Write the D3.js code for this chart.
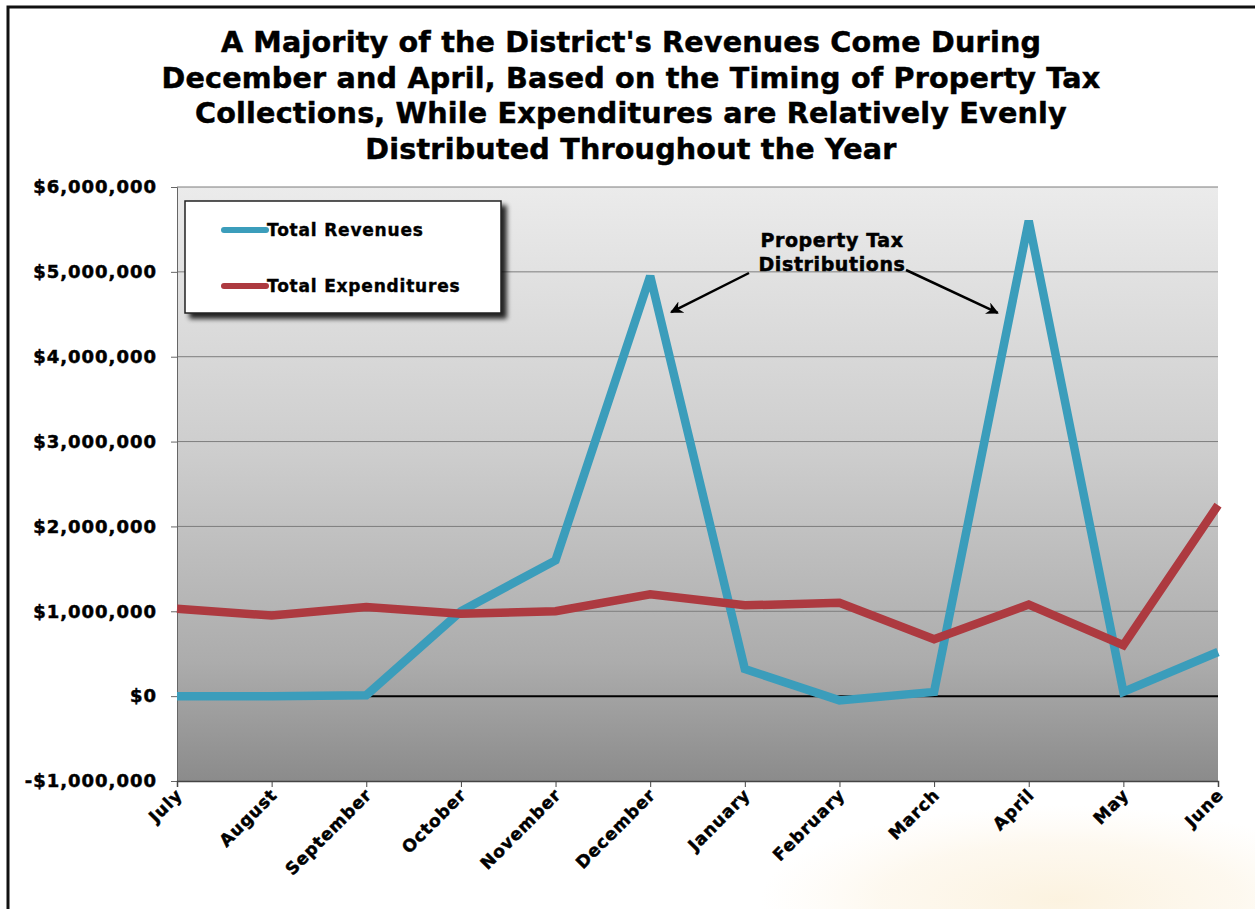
<!DOCTYPE html>
<html>
<head>
<meta charset="utf-8">
<script src="https://cdn.jsdelivr.net/npm/d3@7"></script>
<style>
  html, body { margin: 0; padding: 0; background: #fff; }
  svg { display: block; }
  text { font-family: "DejaVu Sans", Verdana, sans-serif; font-weight: bold; fill: #000; }
</style>
</head>
<body>
<svg id="chart" width="1255" height="909"></svg>
<script>
// Monthly figures for the fiscal year, July through June
const months = ["July", "August", "September", "October", "November", "December",
                "January", "February", "March", "April", "May", "June"];
const revenues = [0, 0, 10000, 1000000, 1600000, 4950000, 320000, -50000, 50000, 5600000, 50000, 520000];
const expenditures = [1030000, 950000, 1050000, 970000, 1000000, 1200000, 1070000, 1100000, 670000, 1080000, 600000, 2250000];
const yTicks = [-1000000, 0, 1000000, 2000000, 3000000, 4000000, 5000000, 6000000];
const titleLines = [
  "A Majority of the District's Revenues Come During",
  "December and April, Based on the Timing of Property Tax",
  "Collections, While Expenditures are Relatively Evenly",
  "Distributed Throughout the Year"
];
const seriesNames = ["Total Revenues", "Total Expenditures"];
const seriesColors = ["#3b9dbb", "#ad3a40"];
const noteLines = ["Property Tax", "Distributions"];

const FONT = "\"DejaVu Sans\", Verdana, sans-serif";
const svg = d3.select("#chart");
const W = 1255, H = 909;
const plot = { left: 177, right: 1218, top: 187, bottom: 781 };

const x = d3.scalePoint().domain(months).range([plot.left, plot.right]);
const y = d3.scaleLinear().domain([-1000000, 6000000]).range([plot.bottom, plot.top]);

const defs = svg.append("defs");
const bg = defs.append("linearGradient").attr("id", "plotBg")
  .attr("x1", 0).attr("y1", 0).attr("x2", 0).attr("y2", 1);
[[0, "#ebebeb"], [0.45, "#cdcdcd"], [0.8, "#acacac"], [1, "#8b8b8b"]]
  .forEach(([o, c]) => bg.append("stop").attr("offset", o).attr("stop-color", c));

const glow = defs.append("radialGradient").attr("id", "glow")
  .attr("cx", 0.5).attr("cy", 0.5).attr("r", 0.5);
glow.append("stop").attr("offset", 0).attr("stop-color", "#fbf0da").attr("stop-opacity", 0.85);
glow.append("stop").attr("offset", 0.6).attr("stop-color", "#fcf3e2").attr("stop-opacity", 0.55);
glow.append("stop").attr("offset", 1).attr("stop-color", "#fdf6ea").attr("stop-opacity", 0);

const shadow = defs.append("filter").attr("id", "shadow")
  .attr("x", -0.1).attr("y", -0.1).attr("width", 1.3).attr("height", 1.4);
shadow.append("feGaussianBlur").attr("in", "SourceAlpha").attr("stdDeviation", 2.5);
shadow.append("feOffset").attr("dx", 5).attr("dy", 5).attr("result", "off");
shadow.append("feComponentTransfer").append("feFuncA").attr("type", "linear").attr("slope", 0.85);
const merge = shadow.append("feMerge");
merge.append("feMergeNode");
merge.append("feMergeNode").attr("in", "SourceGraphic");

// faint warm glow in the lower right corner
svg.append("ellipse").attr("cx", 1060).attr("cy", 900).attr("rx", 300).attr("ry", 95)
  .attr("fill", "url(#glow)");

// outer frame (top and left edges)
svg.append("path").attr("d", `M8,${H} L8,7 L${W},7`)
  .attr("fill", "none").attr("stroke", "#111").attr("stroke-width", 3);

// heavy bold text helper
const heavy = (sel, size, spacing, sw) => sel
  .style("font-size", size + "px")
  .style("font-family", FONT)
  .style("letter-spacing", spacing + "px")
  .attr("stroke", "#000").attr("stroke-width", sw).attr("paint-order", "stroke");

// title
heavy(svg.append("g").selectAll("text").data(titleLines).join("text")
  .attr("x", 631).attr("y", (d, i) => 52 + i * 35.5)
  .attr("text-anchor", "middle")
  .text(d => d), 28.6, 0.2, 0.5);

// plot background
svg.append("rect")
  .attr("x", plot.left).attr("y", plot.top)
  .attr("width", plot.right - plot.left).attr("height", plot.bottom - plot.top)
  .attr("fill", "url(#plotBg)");

// gridlines
svg.append("g").selectAll("line").data(yTicks.filter(v => v !== 0 && v !== -1000000)).join("line")
  .attr("x1", plot.left).attr("x2", plot.right)
  .attr("y1", d => y(d)).attr("y2", d => y(d))
  .attr("stroke", "#7d7d7d").attr("stroke-width", 1);

// y axis
const yAxis = svg.append("g").attr("transform", `translate(${plot.left},0)`)
  .call(d3.axisLeft(y).tickValues(yTicks).tickSize(6).tickPadding(14)
    .tickFormat(d => (d < 0 ? "-$" : "$") + d3.format(",")(Math.abs(d))));
yAxis.select(".domain").attr("stroke", "#666");
yAxis.selectAll(".tick line").attr("stroke", "#666");
heavy(yAxis.selectAll("text"), 18, 1, 0.5);

// x axis at the bottom of the plot
const xAxis = svg.append("g").attr("transform", `translate(0,${plot.bottom})`)
  .call(d3.axisBottom(x).tickSize(6).tickPadding(6));
xAxis.select(".domain").attr("stroke", "#444").attr("stroke-width", 1.5);
xAxis.selectAll(".tick line").attr("stroke", "#444");
heavy(xAxis.selectAll("text"), 17, 0.9, 0.5)
  .attr("text-anchor", "end")
  .attr("dy", 0).attr("y", 0)
  .attr("transform", "translate(6,15) rotate(-45)");

// zero baseline
svg.append("line")
  .attr("x1", plot.left).attr("x2", plot.right)
  .attr("y1", y(0)).attr("y2", y(0))
  .attr("stroke", "#000").attr("stroke-width", 2);

// series lines
const line = d3.line().x((d, i) => x(months[i])).y(d => y(d));
[revenues, expenditures].forEach((vals, k) => {
  svg.append("path").datum(vals)
    .attr("d", line)
    .attr("fill", "none")
    .attr("stroke", seriesColors[k])
    .attr("stroke-width", 8.5)
    .attr("stroke-linejoin", "miter")
    .attr("stroke-miterlimit", 3);
});

// legend
const legend = svg.append("g");
legend.append("rect").attr("x", 185).attr("y", 201).attr("width", 316).attr("height", 112)
  .attr("fill", "#fff").attr("stroke", "#222").attr("stroke-width", 1.5)
  .attr("filter", "url(#shadow)");
seriesNames.forEach((name, k) => {
  const ly = 230 + k * 56;
  legend.append("line").attr("x1", 224).attr("x2", 266).attr("y1", ly).attr("y2", ly)
    .attr("stroke", seriesColors[k]).attr("stroke-width", 6).attr("stroke-linecap", "round");
  heavy(legend.append("text").attr("x", 267).attr("y", ly + 6).text(name), 17, 0.8, 0.4);
});

// annotation pointing at the two peaks
const note = svg.append("g");
heavy(note.selectAll("text").data(noteLines).join("text")
  .attr("x", 832).attr("y", (d, i) => 247 + i * 24)
  .attr("text-anchor", "middle").text(d => d), 19, 0.6, 0.5);

defs.append("marker").attr("id", "arrow").attr("viewBox", "0 0 10 10")
  .attr("refX", 9).attr("refY", 5).attr("markerWidth", 5).attr("markerHeight", 5)
  .attr("orient", "auto-start-reverse")
  .append("path").attr("d", "M0,0 L10,5 L0,10 L3,5 Z").attr("fill", "#000");

const peakDec = [x("December") + 21, y(revenues[5]) + 36];
const peakApr = [x("April") - 31, y(revenues[9]) + 92];
note.append("line").attr("x1", 749).attr("y1", 273).attr("x2", peakDec[0]).attr("y2", peakDec[1])
  .attr("stroke", "#000").attr("stroke-width", 2.5).attr("marker-end", "url(#arrow)");
note.append("line").attr("x1", 906).attr("y1", 270).attr("x2", peakApr[0]).attr("y2", peakApr[1])
  .attr("stroke", "#000").attr("stroke-width", 2.5).attr("marker-end", "url(#arrow)");
</script>
</body>
</html>
